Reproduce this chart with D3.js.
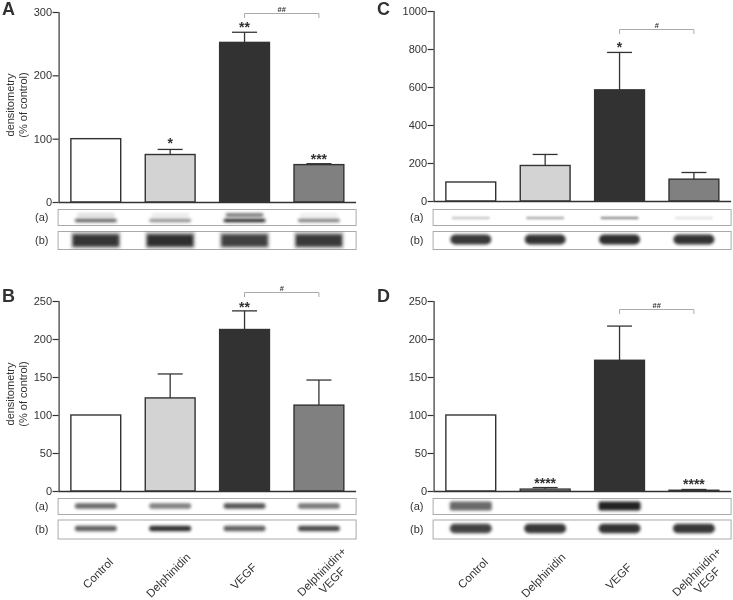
<!DOCTYPE html>
<html><head><meta charset="utf-8">
<style>html,body{margin:0;padding:0;background:#fff}svg{display:block}text{font-family:"Liberation Sans",Arial,sans-serif;fill:#333}</style>
<script src="https://cdn.jsdelivr.net/npm/d3@7"></script></head><body>
<script>
const categories = ["Control","Delphinidin","VEGF","Delphinidin+\nVEGF"];
const fills = ["#ffffff","#d3d3d3","#333333","#808080"];
const ticksA = [0,100,200,300], ticksC = [0,200,400,600,800,1000], ticksBD = [0,50,100,150,200,250];
const valuesA = [100,75,252,59],  errTopA = [null,83,268,60.5];
const valuesC = [100,187,585,115], errTopC = [null,245,782,150];
const valuesB = [100,122.5,212.5,113], errTopB = [null,154,237,146];
const valuesD = [100,2.5,172,1], errTopD = [null,4.5,217,2];
const starsA = ["","*","**","***"], starsC = ["","","*",""], starsB = ["","","**",""], starsD = ["","****","","****"];
// band intensities of the two blots (main band and faint upper band)
const blotAa = [.6,.42,.85,.48], blotAaUpper = [.16,.1,.65,.08], blotAb = [.88,.92,.82,.86];
const blotCa = [.25,.38,.5,.13], blotCb = [.9,.92,.95,.92];
const blotBa = [.68,.58,.78,.62], blotBb = [.72,.95,.72,.82];
const blotDa = [.68,0,1,0], blotDb = [.85,.9,.92,.9];

const W=733,H=600;
const svg=d3.select("body").append("svg").attr("width",W).attr("height",H);
const defs=svg.append("defs");
[["b1",1.1],["b15",1.6],["b2",2.2]].forEach(([id,s])=>defs.append("filter").attr("id",id)
  .attr("x","-20%").attr("y","-150%").attr("width","140%").attr("height","400%")
  .append("feGaussianBlur").attr("stdDeviation",s));
defs.append("filter").attr("id","soft").attr("filterUnits","userSpaceOnUse").attr("x",0).attr("y",0).attr("width",W).attr("height",H)
  .append("feGaussianBlur").attr("stdDeviation",.35);
const root=svg.append("g").attr("filter","url(#soft)");
let clipId=0;

function panel(o){
  const g=root.append("g");
  const x=d3.scaleBand().domain(categories).range([o.x0,o.x0+297.5]).paddingInner(.33).paddingOuter(.165);
  const y=d3.scaleLinear().domain([0,d3.max(o.ticks)]).range([o.y0,o.yTop]);
  const cx=i=>x(categories[i])+x.bandwidth()/2;
  g.selectAll(".bar").data(o.values).join("rect").attr("x",(d,i)=>x(categories[i])).attr("y",d=>y(d))
    .attr("width",x.bandwidth()).attr("height",d=>o.y0-y(d))
    .attr("fill",(d,i)=>fills[i]).attr("stroke","#333").attr("stroke-width",1.4);
  o.err.forEach((e,i)=>{ if(e==null)return;
    const eg=g.append("g").attr("stroke","#333").attr("stroke-width",1.3);
    eg.append("line").attr("x1",cx(i)).attr("x2",cx(i)).attr("y1",y(o.values[i])).attr("y2",y(e));
    eg.append("line").attr("x1",cx(i)-12.5).attr("x2",cx(i)+12.5).attr("y1",y(e)).attr("y2",y(e));
  });
  const ya=d3.axisLeft(y).tickValues(o.ticks).tickSize(6).tickPadding(.5).tickFormat(d3.format("d"));
  const ag=g.append("g").attr("transform",`translate(${o.x0},0)`).call(ya);
  ag.selectAll("path,line").attr("stroke","#333").attr("stroke-width",1.2);
  ag.selectAll("text").attr("font-size",11).attr("fill","#333").style("font-family",'"Liberation Sans"');
  ag.select(".domain").attr("d",`M0.5,${o.yTop}V${o.y0}`);
  g.append("line").attr("x1",o.x0).attr("x2",o.x0+297.5).attr("y1",o.y0+.5).attr("y2",o.y0+.5).attr("stroke","#333").attr("stroke-width",1.3);
  o.stars.forEach((s,i)=>{ if(!s)return;
    g.append("text").attr("x",cx(i)).attr("y",y(o.err[i])+o.starDy[i]).attr("text-anchor","middle")
      .attr("font-size",14).attr("font-weight","bold").attr("fill","#222").text(s);
  });
  const by=o.bracketY;
  g.append("path").attr("d",`M${cx(2)},${by+4.5}V${by}H${cx(3)}V${by+4.5}`).attr("fill","none").attr("stroke","#aaa").attr("stroke-width",1);
  g.append("text").attr("x",(cx(2)+cx(3))/2).attr("y",by-1.5).attr("text-anchor","middle").attr("font-size",7.5).attr("font-weight","bold").attr("fill","#444").text(o.sig);
  g.append("text").attr("x",o.letterX).attr("y",o.yLetter).attr("font-size",18).attr("font-weight","bold").attr("fill","#111").text(o.letter);
  if(o.ylabel){
    [["densitometry",14],["(% of control)",27]].forEach(([t,tx])=>
      g.append("text").attr("transform",`translate(${tx},${o.yLabelC}) rotate(-90)`).attr("text-anchor","middle").attr("font-size",11).text(t));
  }
  o.blots.forEach(b=>{
    const id="clip"+(clipId++);
    defs.append("clipPath").attr("id",id).append("rect").attr("x",o.x0).attr("y",b.top+.5).attr("width",297).attr("height",b.h);
    g.append("rect").attr("x",o.x0-.5).attr("y",b.top+.5).attr("width",298).attr("height",b.h).attr("fill","#fff").attr("stroke","#aaa").attr("stroke-width",1);
    g.append("text").attr("x",o.x0-23.5).attr("y",b.top+b.h/2+4).attr("font-size",11).text(b.label);
    const lane=g.append("g").attr("clip-path",`url(#${id})`);
    b.layers.forEach(l=>{
      l.data.forEach((d,i)=>{ if(!d)return;
        lane.append("rect").attr("x",cx(i)-l.w/2).attr("y",l.y-l.t/2).attr("width",l.w).attr("height",l.t)
          .attr("rx",l.r==null?Math.min(l.t/2,l.w/4):l.r).attr("fill","#222").attr("opacity",d*(l.k||1)).attr("filter",`url(#${l.f})`);
      });
    });
  });
}

panel({letter:"A",letterX:2,yLetter:15,x0:58.6,yTop:12,y0:202,ticks:ticksA,values:valuesA,err:errTopA,stars:starsA,starDy:[0,-1.5,0,0],bracketY:13.5,sig:"##",ylabel:true,yLabelC:105,
 blots:[{label:"(a)",top:209,h:16,layers:[{data:blotAaUpper,y:215,t:3.5,w:38,f:"b15"},{data:blotAa,y:220.5,t:3.5,w:42,f:"b15",k:1.2}]},
        {label:"(b)",top:231,h:18,layers:[{data:blotAb,y:240,t:17,w:50,r:0,f:"b15",k:.3},{data:blotAb,y:240.5,t:12,w:46,r:1,f:"b15"}]}]});
panel({letter:"C",letterX:377,yLetter:15,x0:433.6,yTop:11,y0:201,ticks:ticksC,values:valuesC,err:errTopC,stars:starsC,starDy:[0,0,0,0],bracketY:29.5,sig:"#",ylabel:false,
 blots:[{label:"(a)",top:209,h:16,layers:[{data:blotCa,y:218,t:2.5,w:38,f:"b1"}]},
        {label:"(b)",top:231,h:18,layers:[{data:blotCb,y:239.5,t:10,w:41,f:"b15"}]}]});
panel({letter:"B",letterX:2,yLetter:302,x0:58.6,yTop:301,y0:491,ticks:ticksBD,values:valuesB,err:errTopB,stars:starsB,starDy:[0,0,1,0],bracketY:292.5,sig:"#",ylabel:true,yLabelC:394,
 blots:[{label:"(a)",top:498,h:16,layers:[{data:blotBa,y:506,t:5.5,w:42,f:"b15"}]},
        {label:"(b)",top:519.5,h:19,layers:[{data:blotBb,y:528.5,t:5.5,w:42,f:"b15"}]}]});
panel({letter:"D",letterX:377,yLetter:302,x0:433.6,yTop:301,y0:491,ticks:ticksBD,values:valuesD,err:errTopD,stars:starsD,starDy:[0,0,0,0],bracketY:309.5,sig:"##",ylabel:false,
 blots:[{label:"(a)",top:498,h:16,layers:[{data:blotDa,y:506,t:9,w:42,r:2,f:"b15"}]},
        {label:"(b)",top:519.5,h:19,layers:[{data:blotDb,y:528.5,t:9.5,w:42,f:"b15"}]}]});

[58.6,433.6].forEach(x0=>{
  const x=d3.scaleBand().domain(categories).range([x0,x0+297.5]).paddingInner(.33).paddingOuter(.165);
  categories.forEach((c,i)=>{
    const cx=x(c)+x.bandwidth()/2, lines=c.split("\n");
    lines.forEach((t,k)=>{
      const ax=cx+[18,21,13,28][i]+(k?-1:0), ay=(lines.length>1?552:[563,558,568][i])+(k?20:0);
      root.append("text").attr("transform",`translate(${ax},${ay}) rotate(-45)`).attr("text-anchor","end").attr("font-size",11.5).text(t);
    });
  });
});
</script></body></html>
